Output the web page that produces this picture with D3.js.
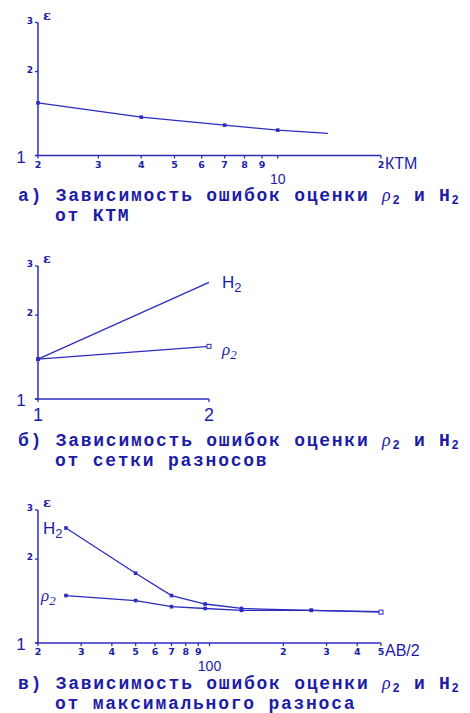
<!DOCTYPE html>
<html>
<head>
<meta charset="utf-8">
<script src="https://cdn.jsdelivr.net/npm/d3@7"></script>
<style>
  html, body { margin: 0; padding: 0; background: #fff; }
  svg { display: block; }
</style>
</head>
<body>
<script>
// Panel а: error vs КТМ
const ktm = [2, 4, 7, 10, 14];
const errKtm = [1.545, 1.373, 1.285, 1.233, 1.20];

// Panel б: errors vs spacing grid
const grid = [1, 2];
const h2Grid = [1.39, 2.62];
const rhoGrid = [1.39, 1.545];

// Panel в: errors vs maximum spacing AB/2
const ab = [26, 50, 70, 96, 135, 260, 500];
const h2Ab = [2.586, 1.78, 1.48, 1.38, 1.33, 1.31, 1.295];
const rhoAb = [1.48, 1.42, 1.35, 1.33, 1.31, 1.31, 1.29];

// Axis ticks
const yTicks = [1, 2, 3];
const xTicksKtm = [2, 3, 4, 5, 6, 7, 8, 9, 10, 20];
const xTicksAb = [20, 30, 40, 50, 60, 70, 80, 90, 100, 200, 300, 400, 500];
const xTicksGrid = [1, 2];

const captions = [
  { letter: "а)", line2: "от КТМ" },
  { letter: "б)", line2: "от сетки разносов" },
  { letter: "в)", line2: "от максимального разноса" }
];

const LINE = "#2c2cc0";
const INK = "#1c1ca6";

const W = 470, H = 713;
const svg = d3.select("body").append("svg").attr("width", W).attr("height", H);

const x0 = 38, x1 = 381;

function yScaleFor(bottom) {
  return d3.scaleLog().domain([1, 3]).range([bottom, bottom - 133]);
}

function drawYAxis(g, y) {
  g.append("line").attr("x1", x0).attr("x2", x0)
    .attr("y1", y(3)).attr("y2", y(1))
    .attr("stroke", LINE).attr("stroke-width", 1.5);
  yTicks.forEach(t => {
    g.append("line").attr("x1", x0 - 3).attr("x2", x0)
      .attr("y1", y(t)).attr("y2", y(t))
      .attr("stroke", LINE).attr("stroke-width", 1.3);
    const big = t === 1;
    g.append("text")
      .attr("x", big ? 21 : 30).attr("y", y(t) + (big ? 7 : 1))
      .attr("text-anchor", "middle")
      .attr("font-family", big ? "Liberation Sans" : "DejaVu Sans")
      .attr("font-weight", big ? "normal" : "bold")
      .attr("font-size", big ? 17 : 9)
      .attr("fill", INK)
      .text(t);
  });
  g.append("text").attr("x", 47).attr("y", y(3) - 3)
    .attr("text-anchor", "middle")
    .attr("font-family", "DejaVu Serif").attr("font-weight", "bold")
    .attr("font-size", 13).attr("fill", INK).text("ε");
}

function drawXAxisLog(g, x, yb, ticks, decadeLabel, axisName) {
  g.append("line").attr("x1", x0 - 3).attr("x2", x1)
    .attr("y1", yb).attr("y2", yb)
    .attr("stroke", LINE).attr("stroke-width", 1.5);
  ticks.forEach(t => {
    g.append("line").attr("x1", x(t)).attr("x2", x(t))
      .attr("y1", yb).attr("y2", yb + 3)
      .attr("stroke", LINE).attr("stroke-width", 1.3);
    if (t === decadeLabel) {
      g.append("text").attr("x", x(t)).attr("y", yb + 28)
        .attr("text-anchor", "middle")
        .attr("font-family", "Liberation Sans").attr("font-size", 14)
        .attr("fill", INK).text(t);
    } else {
      const lead = String(t)[0];
      g.append("text").attr("x", x(t)).attr("y", yb + 12)
        .attr("text-anchor", "middle")
        .attr("font-family", "DejaVu Sans").attr("font-weight", "bold")
        .attr("font-size", 9.5).attr("fill", INK).text(lead);
    }
  });
  g.append("text").attr("x", x1 + 4).attr("y", yb + 13)
    .attr("font-family", "Liberation Sans").attr("font-size", 16)
    .attr("fill", INK).text(axisName);
}

function drawSeries(g, x, y, xs, ys, openLast) {
  const pts = xs.map((v, i) => [x(v), y(ys[i])]);
  g.append("path").attr("d", d3.line()(pts))
    .attr("fill", "none").attr("stroke", LINE).attr("stroke-width", 1.3);
  pts.forEach((p, i) => {
    const last = i === pts.length - 1;
    if (last && openLast) {
      g.append("rect").attr("x", p[0] - 2).attr("y", p[1] - 2)
        .attr("width", 4).attr("height", 4)
        .attr("fill", "#fff").attr("stroke", LINE).attr("stroke-width", 1);
    } else if (!last) {
      g.append("rect").attr("x", p[0] - 1.8).attr("y", p[1] - 1.8)
        .attr("width", 3.6).attr("height", 3.6).attr("fill", LINE);
    }
  });
}

function seriesLabel(g, px, py, name) {
  const t = g.append("text").attr("x", px).attr("y", py)
    .attr("font-size", 17).attr("fill", INK);
  if (name === "H") {
    t.attr("font-family", "Liberation Sans");
    t.append("tspan").text("H");
  } else {
    t.attr("font-family", "Liberation Serif").attr("font-style", "italic");
    t.append("tspan").text("ρ");
  }
  t.append("tspan").attr("font-size", 13).attr("dy", 4).text("2");
}

function caption(g, yLine1, cap) {
  const fam = "Liberation Mono";
  const t = g.append("text").attr("x", 18).attr("y", yLine1)
    .attr("font-family", fam).attr("font-weight", "bold")
    .attr("font-size", 18).attr("letter-spacing", 1.75)
    .attr("fill", INK);
  t.append("tspan").text(cap.letter + " Зависимость ошибок оценки ");
  t.append("tspan").attr("font-family", "Liberation Serif")
    .attr("font-style", "italic").attr("font-weight", "normal").text("ρ");
  t.append("tspan").attr("font-size", 12).attr("dy", 3).text("2");
  t.append("tspan").attr("dy", -3).text(" и H");
  t.append("tspan").attr("font-size", 12).attr("dy", 3).text("2");
  g.append("text").attr("x", 55).attr("y", yLine1 + 20)
    .attr("font-family", fam).attr("font-weight", "bold")
    .attr("font-size", 18).attr("letter-spacing", 1.75)
    .attr("fill", INK).text(cap.line2);
}

// ---- Panel а ----
{
  const g = svg.append("g");
  const y = yScaleFor(155.5);
  const x = d3.scaleLog().domain([2, 20]).range([x0, x1]);
  drawYAxis(g, y);
  drawXAxisLog(g, x, y(1), xTicksKtm, 10, "КТМ");
  drawSeries(g, x, y, ktm, errKtm, null);
  caption(g, 201, captions[0]);
}

// ---- Panel б ----
{
  const g = svg.append("g");
  const y = yScaleFor(399);
  const x = d3.scaleLinear().domain([1, 2]).range([x0, 209]);
  drawYAxis(g, y);
  g.append("line").attr("x1", x0 - 3).attr("x2", x(2))
    .attr("y1", y(1)).attr("y2", y(1))
    .attr("stroke", LINE).attr("stroke-width", 1.5);
  xTicksGrid.forEach(t => {
    g.append("line").attr("x1", x(t)).attr("x2", x(t))
      .attr("y1", y(1)).attr("y2", y(1) + 3)
      .attr("stroke", LINE).attr("stroke-width", 1.3);
    g.append("text").attr("x", x(t)).attr("y", y(1) + 22)
      .attr("text-anchor", "middle")
      .attr("font-family", "Liberation Sans").attr("font-size", 18)
      .attr("fill", INK).text(t);
  });
  drawSeries(g, x, y, grid, h2Grid, null);
  drawSeries(g, x, y, grid, rhoGrid, true);
  seriesLabel(g, x(2) + 13, y(h2Grid[1]) + 6, "H");
  seriesLabel(g, x(2) + 13, y(rhoGrid[1]) + 9, "ρ");
  caption(g, 446, captions[1]);
}

// ---- Panel в ----
{
  const g = svg.append("g");
  const y = yScaleFor(643);
  const x = d3.scaleLog().domain([20, 500]).range([x0, x1]);
  drawYAxis(g, y);
  drawXAxisLog(g, x, y(1), xTicksAb, 100, "AB/2");
  drawSeries(g, x, y, ab, h2Ab, null);
  drawSeries(g, x, y, ab, rhoAb, true);
  seriesLabel(g, 43, y(h2Ab[0]) + 6, "H");
  seriesLabel(g, 41, y(rhoAb[0]) + 5, "ρ");
  caption(g, 689, captions[2]);
}
</script>
</body>
</html>
